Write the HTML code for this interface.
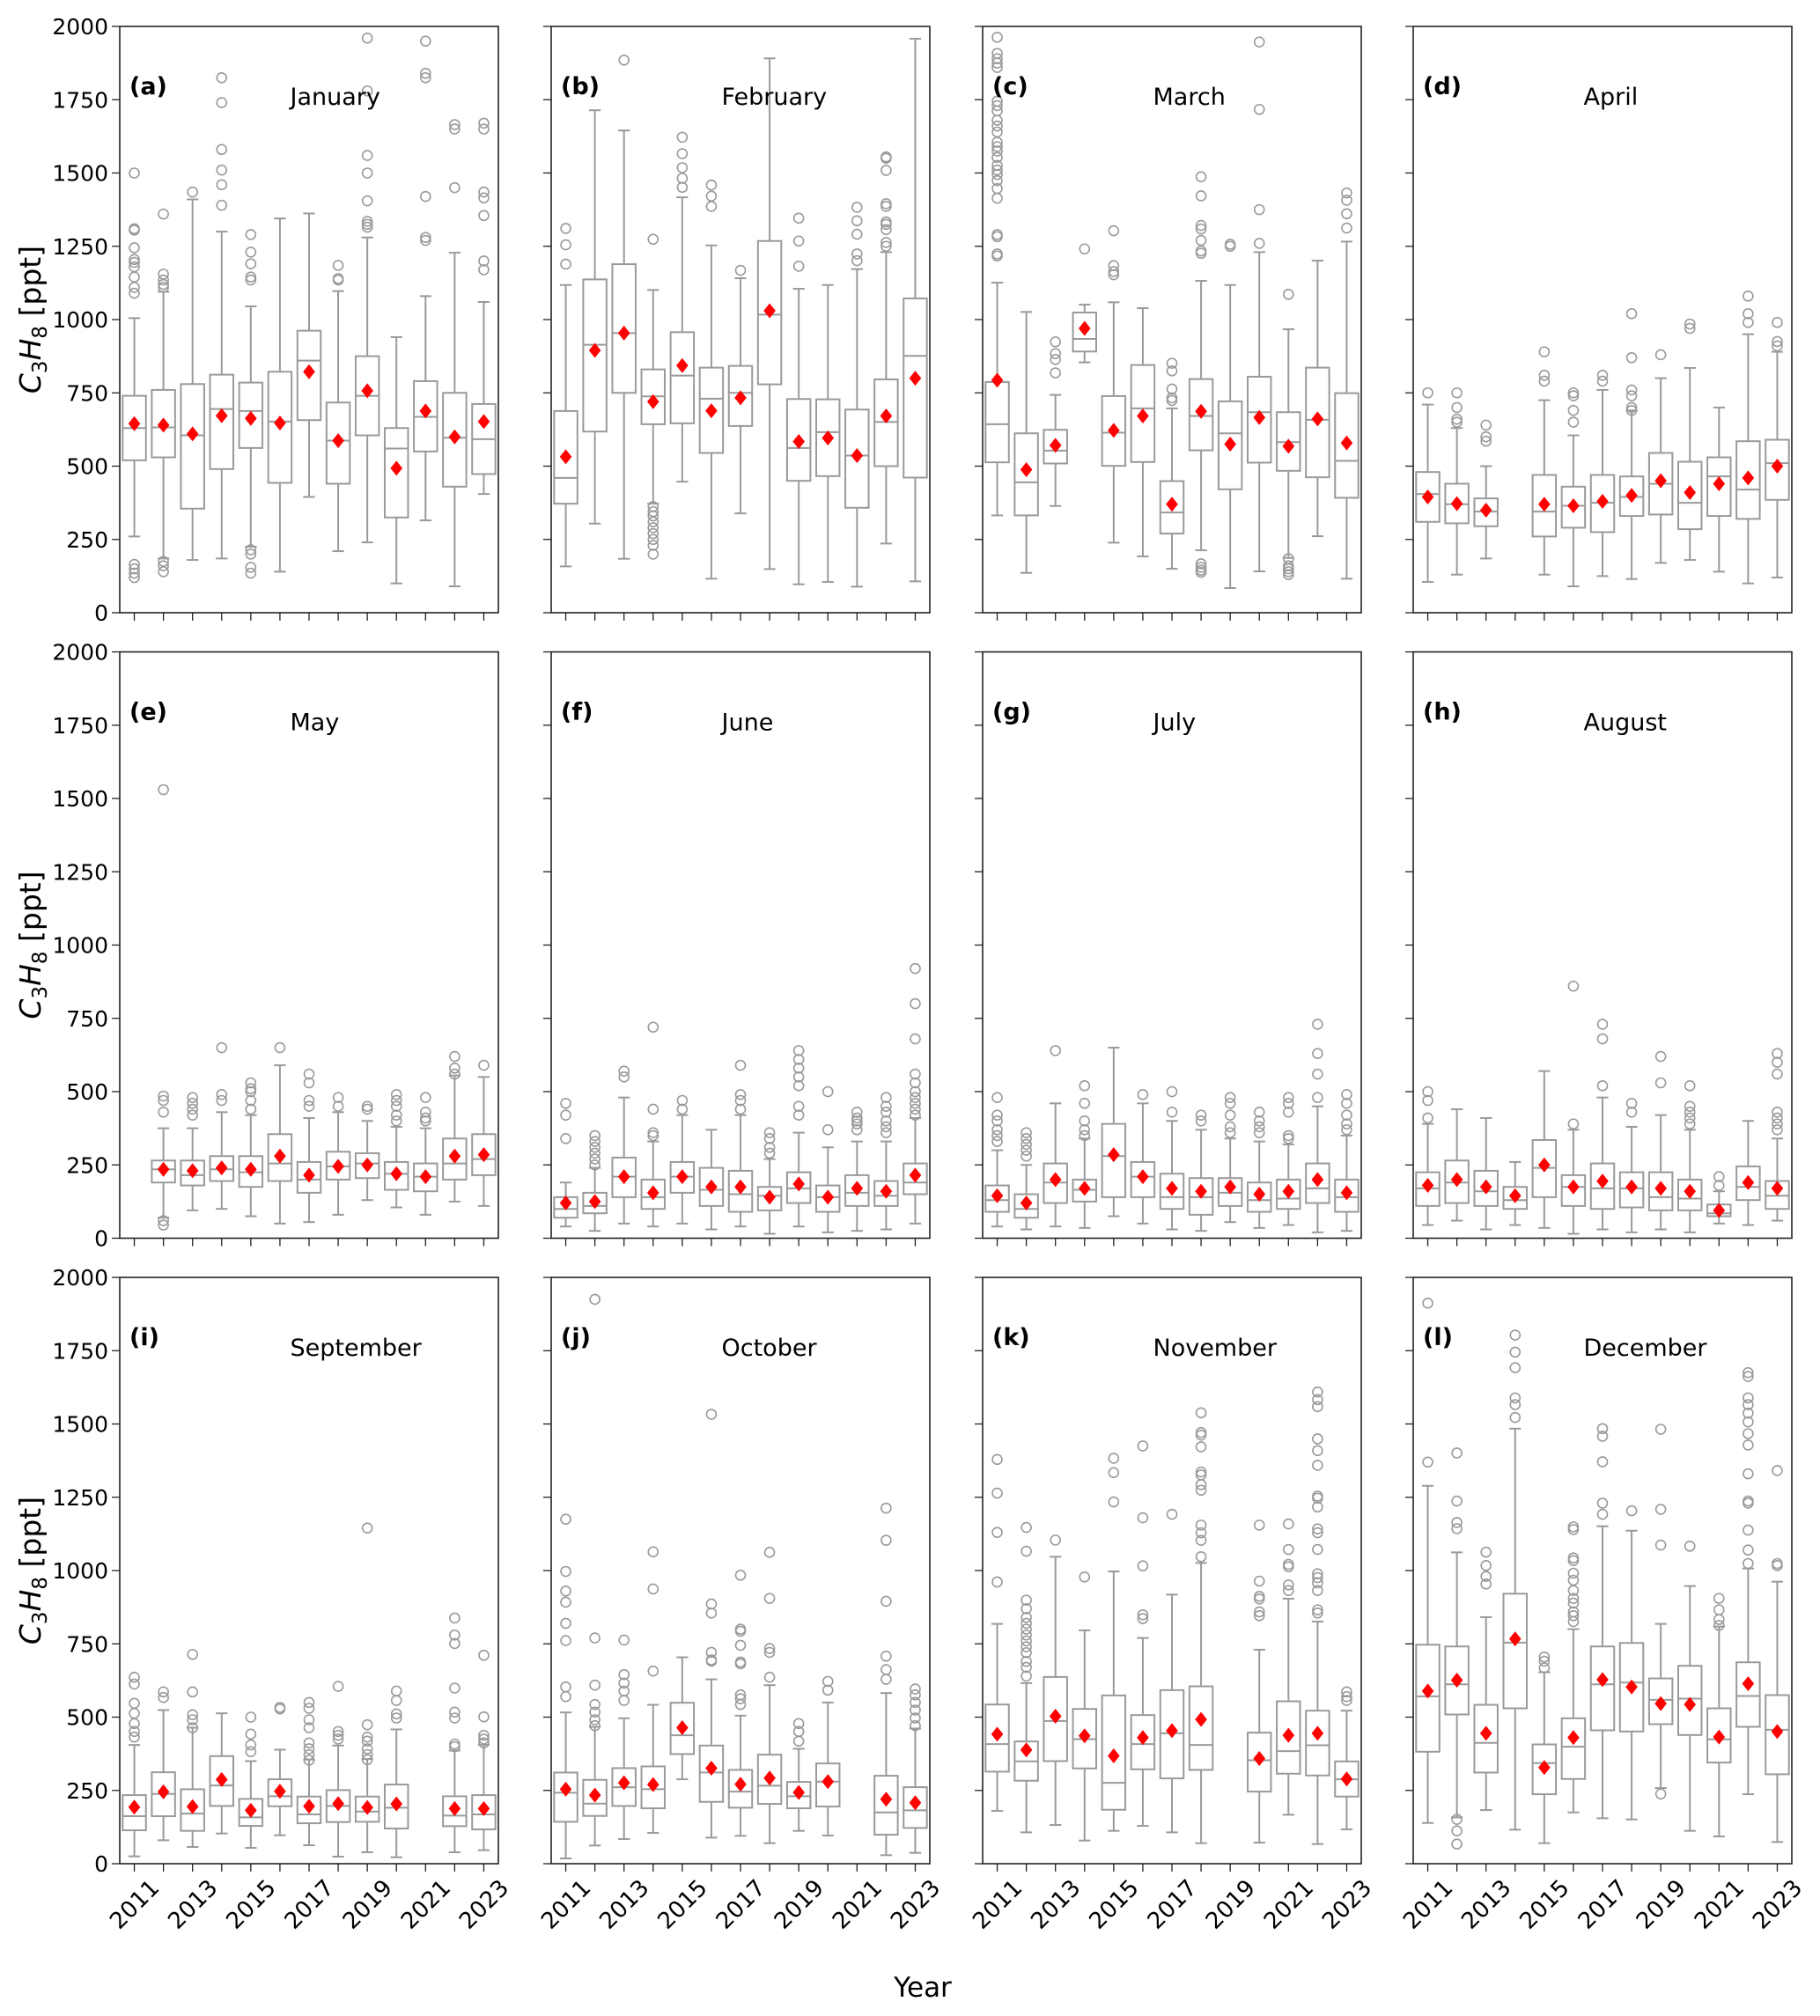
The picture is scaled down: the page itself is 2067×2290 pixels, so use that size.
<!DOCTYPE html>
<html><head><meta charset="utf-8">
<style>
html,body{margin:0;padding:0;background:#fff;}
svg{display:block;font-family:"DejaVu Sans","Liberation Sans",sans-serif;}
</style></head>
<body>
<svg id="chart" xmlns="http://www.w3.org/2000/svg" width="2067" height="2290" viewBox="0 0 2067 2290">
<rect x="0" y="0" width="2067" height="2290" fill="#fff"/>
<text x="1048" y="2268" font-size="31" text-anchor="middle">Year</text>
</svg>
<script>
const years = [2011,2012,2013,2014,2015,2016,2017,2018,2019,2020,2021,2022,2023];
const months = ["January","February","March","April","May","June","July","August","September","October","November","December"];
const panelLabels = ["(a)","(b)","(c)","(d)","(e)","(f)","(g)","(h)","(i)","(j)","(k)","(l)"];
const yTicks = [0,250,500,750,1000,1250,1500,1750,2000];
const yMax = 2000;

const whisLo = [
[260,185,180,185,225,140,395,210,240,100,315,90,405],
[158,304,184,372,447,116,339,149,97,105,89,236,107],
[332,136,364,854,239,192,150,213,84,141,187,261,116],
[105,130,185,null,130,90,125,115,170,180,140,100,120],
[null,70,95,100,75,50,55,80,130,105,80,125,110],
[40,25,50,40,50,30,40,15,40,20,25,30,50],
[40,30,40,35,75,50,30,25,55,35,45,20,25],
[45,60,30,45,35,15,30,20,30,20,50,45,60],
[25,80,57,103,54,97,63,24,39,22,null,39,46],
[18,62,84,105,288,89,95,70,112,96,null,29,37],
[180,107,132,79,112,129,107,70,null,72,167,67,117],
[139,158,183,116,70,175,155,151,258,112,93,237,74]];
const q1 = [
[520,530,355,490,562,443,657,440,605,325,550,430,473],
[372,618,750,643,646,545,637,779,450,466,358,500,461],
[513,332,509,891,501,514,270,554,421,512,484,462,392],
[310,305,295,null,260,290,275,330,335,285,330,320,385],
[null,190,180,195,175,195,155,200,205,165,160,200,215],
[70,85,140,100,155,110,90,95,120,90,110,110,150],
[90,70,120,125,140,140,100,80,110,90,100,120,90],
[110,120,110,100,140,110,100,105,95,95,75,130,100],
[114,162,112,197,129,196,138,142,143,120,null,128,117],
[143,163,197,189,374,211,191,204,189,195,null,99,122],
[314,283,350,325,184,322,291,320,null,246,307,301,229],
[382,509,311,530,237,289,455,451,476,439,345,467,305]];
const median = [
[630,632,605,695,688,652,860,587,740,560,668,597,592],
[460,914,954,738,809,730,750,1017,562,616,536,651,876],
[643,445,553,934,614,697,342,671,612,684,582,658,518],
[405,370,345,null,345,365,375,395,440,375,465,420,510],
[null,235,215,235,225,255,200,245,255,220,210,255,270],
[100,110,210,140,210,165,150,145,170,140,155,145,190],
[130,100,190,165,280,210,140,140,155,130,135,170,140],
[170,190,160,130,240,175,170,170,140,135,85,175,145],
[162,238,171,267,158,230,168,197,178,191,null,164,168],
[242,205,261,254,438,311,246,266,230,280,null,175,182],
[408,349,487,425,276,408,445,405,null,353,384,404,288],
[571,612,412,754,343,399,612,618,559,563,424,572,457]];
const q3 = [
[740,760,780,812,785,822,962,717,875,630,790,750,712],
[688,1137,1189,830,957,836,842,1268,729,728,693,796,1072],
[787,612,624,1024,739,845,449,797,721,805,684,836,749],
[480,440,390,null,470,430,470,465,545,515,530,585,590],
[null,265,265,280,280,355,260,295,290,260,255,340,355],
[140,155,275,200,260,240,230,175,225,180,215,195,255],
[180,150,255,200,390,260,220,205,205,190,200,255,200],
[225,265,230,175,335,215,255,225,225,200,115,245,195],
[234,312,254,367,221,288,229,251,229,270,null,230,234],
[311,286,326,332,549,403,320,372,279,342,null,300,261],
[543,417,637,528,574,507,592,605,null,447,554,522,349],
[747,741,542,921,407,496,741,753,632,675,530,687,575]];
const whisHi = [
[1005,1095,1410,1300,1045,1345,1362,1097,1280,940,1080,1228,1060],
[1118,1714,1645,1101,1417,1253,1141,1891,1105,1118,1172,1230,1958],
[1126,1026,743,1051,1059,1039,697,1132,1118,1230,967,1201,1266],
[710,630,500,null,725,605,760,690,800,835,700,950,890],
[null,375,375,430,420,590,410,430,400,380,375,555,550],
[190,240,480,330,420,370,420,270,360,310,330,330,410],
[300,250,460,340,650,460,400,370,340,330,320,450,350],
[390,440,410,260,570,370,480,380,420,370,160,400,340],
[405,524,464,513,350,389,355,403,357,458,null,386,405],
[516,467,496,542,704,629,505,609,392,550,null,582,461],
[818,616,1047,796,997,770,918,1026,null,730,904,826,522],
[1289,1062,841,1484,653,800,1151,1136,818,947,809,1007,962]];
const means = [
[645,640,610,672,663,647,822,587,757,493,688,600,652],
[532,895,954,720,843,689,733,1030,584,596,536,671,800],
[793,488,571,970,622,671,370,687,575,666,568,661,579],
[395,372,350,null,370,365,380,400,450,410,440,460,500],
[null,235,230,240,235,280,215,245,250,220,210,280,285],
[120,125,210,155,210,175,175,140,185,140,170,160,215],
[145,120,200,170,285,210,170,160,175,150,160,200,155],
[180,200,175,145,250,175,195,175,170,160,95,190,170],
[193,245,195,287,182,247,196,205,192,204,null,188,188],
[254,234,276,270,464,326,271,292,243,280,null,220,208],
[442,388,503,436,368,430,454,492,null,359,438,445,289],
[589,626,445,767,328,430,628,603,546,543,432,614,451]];
const outliers = [
[[1500,1310,1305,1245,1205,1195,1180,1145,1110,1090,165,150,135,120],[1360,1155,1135,1120,1110,175,160,140],[1435],[1825,1740,1580,1510,1460,1390],[1290,1230,1190,1145,1135,215,200,155,135],[],[],[1185,1140,1135],[1960,1780,1560,1500,1405,1335,1325,1315],[],[1950,1840,1825,1420,1280,1270],[1665,1650,1450],[1670,1650,1435,1415,1355,1200,1170]],
[[1311,1255,1189],[],[1885],[1274,362,345,330,310,290,270,250,230,200],[1622,1566,1518,1482,1451],[1459,1421,1386],[1168],[],[1346,1268,1182],[],[1383,1337,1291,1224,1201],[1555,1550,1509,1395,1386,1333,1325,1307,1263,1250],[]],
[[1963,1908,1890,1875,1860,1745,1730,1712,1680,1660,1640,1605,1590,1575,1553,1526,1510,1495,1474,1447,1414,1290,1283,1224,1217],[],[924,884,864,818],[1241],[1303,1184,1164,1153],[],[851,825,763,733,724],[1487,1422,1321,1309,1270,1234,1226,167,155,145,138],[1257,1250],[1947,1717,1375,1260],[1086,184,160,150,140,130],[],[1432,1407,1361,1312]],
[[750],[750,700,660,650],[640,600,585],[],[890,810,790],[750,740,690,650],[810,790],[1020,870,760,740,700,690],[880],[985,970],[],[1080,1020,990],[990,925,910]],
[[],[1530,485,470,430,60,45],[480,460,440,420],[650,490,470],[530,510,500,470,440],[650],[560,530,470,450],[480,450],[450,440],[490,470,450,420,400],[480,430,410,400],[620,580,560],[590]],
[[460,420,340],[350,330,310,290,270,250],[570,550],[720,440,360,350],[470,440],[],[590,490,470,440],[360,340,310,290],[640,610,580,550,520,450,420],[500,370],[430,410,400,390,370],[480,450,430,400,380,360],[920,800,680,560,530,500,480,460,440,420]],
[[480,420,400,370,350,330],[360,340,320,300,280],[640],[520,460,400,370,350],[],[490],[500,430],[420,400],[480,460,420,380,360],[430,400,380,360],[480,460,430,350,340],[730,630,560,480],[490,460,420,390,370]],
[[500,470,410],[],[],[],[],[860,390],[730,680,520],[460,430],[620,530],[520,450,430,410,390],[210,180],[],[630,600,560,430,410,390,370]],
[[636,613,547,513,478,451,432],[586,567],[714,586,508,491,464],[],[500,442,405,382],[533,528],[550,530,491,464,412,392,372,353],[605,451,438,425],[1145,474,432,418,392,372,355],[589,557,511,497],[],[838,780,751,599,517,497,408,399],[711,501,438,425,412]],
[[1175,997,930,892,820,761,603,570],[1925,770,609,543,517,491,471],[763,645,616,589,557],[1064,937,657],[],[1533,886,855,721,695,691],[984,800,793,745,688,682,576,563,543],[1062,905,734,721,636],[478,451,418],[622,592],[],[1213,1103,895,708,662,629],[596,576,550,524,497,471]],
[[1379,1264,1130,961],[1147,1066,899,870,840,820,800,780,760,740,720,690,670,640],[1104],[978],[1383,1334,1234],[1425,1180,1016,849,836],[1192],[1538,1471,1462,1422,1336,1326,1293,1274,1155,1129,1103,1047],[],[1155,964,912,903,859,846],[1159,1072,1021,1013,951,932],[1609,1583,1559,1449,1409,1359,1254,1247,1217,1142,1129,1072,989,976,958,932,866,855],[586,570,557]],
[[1912,1370],[1401,1237,1164,1143,151,112,67],[1063,1017,980,954],[1803,1745,1692,1589,1566,1522],[705,691,668],[1149,1140,1043,1034,991,967,932,905,889,859,846,826],[1484,1458,1371,1230,1192],[1204],[1482,1209,1087,238],[1083],[905,866,833,813],[1675,1662,1589,1566,1537,1507,1467,1428,1330,1237,1230,1138,1070,1024],[1341,1024,1017]]];

const NS = "http://www.w3.org/2000/svg";
const svg = document.getElementById("chart");
const panelLefts = [136, 626, 1116, 1605];
const rowTops = [30, 740.5, 1451];
const PW = 430, PH = 666;
const GRAY = "#9a9a9a";
function mk(tag, attrs, parent) {
  const e = document.createElementNS(NS, tag);
  for (const k in attrs) e.setAttribute(k, attrs[k]);
  (parent || svg).appendChild(e);
  return e;
}

for (let m = 0; m < 12; m++) {
  const col = m % 4, row = Math.floor(m / 4);
  const L = panelLefts[col], T = rowTops[row];
  const xs = i => L + PW * (i + 0.5) / years.length;
  const ys = v => T + PH * (1 - v / yMax);
  const g = mk("g", {});
  
  

  yTicks.forEach(t => {
    const tk = mk("line", {x1: L - 9, x2: L, y1: ys(t), y2: ys(t), stroke: "#222", "stroke-width": 1.3}, g);
    
    
    if (col === 0) {
      const tl = mk("text", {x: L - 13, y: ys(t) + 9, "font-size": 25, "text-anchor": "end", fill: "#000"}, g);
      tl.textContent = t;
      
      
    }
  });
  years.forEach((yr, i) => {
    const tk = mk("line", {x1: xs(i), x2: xs(i), y1: T + PH, y2: T + PH + 9, stroke: "#222", "stroke-width": 1.3}, g);
    
    
    if (row === 2 && i % 2 === 0) {
      const cx = xs(i), cy = T + PH + 46;
      const tl = mk("text", {x: cx, y: cy + 9, "font-size": 26, "text-anchor": "middle", transform: `rotate(-45 ${cx} ${cy})`, fill: "#000"}, g);
      tl.textContent = yr;
      
      
    }
  });

  const bw = PW / years.length * 0.8, cw = bw * 0.5;
  years.forEach((yr, i) => {
    if (q1[m][i] == null) return;
    const x = xs(i);
    const bg = mk("g", {}, g);
    
    
    const st = {stroke: GRAY, "stroke-width": 2, fill: "none"};
    mk("line", Object.assign({x1: x, x2: x, y1: ys(whisLo[m][i]), y2: ys(q1[m][i])}, st), bg);
    mk("line", Object.assign({x1: x, x2: x, y1: ys(q3[m][i]), y2: ys(whisHi[m][i])}, st), bg);
    mk("line", Object.assign({x1: x - cw/2, x2: x + cw/2, y1: ys(whisLo[m][i]), y2: ys(whisLo[m][i])}, st), bg);
    mk("line", Object.assign({x1: x - cw/2, x2: x + cw/2, y1: ys(whisHi[m][i]), y2: ys(whisHi[m][i])}, st), bg);
    mk("rect", Object.assign({x: x - bw/2, y: ys(q3[m][i]), width: bw, height: ys(q1[m][i]) - ys(q3[m][i])}, st), bg);
    mk("line", Object.assign({x1: x - bw/2, x2: x + bw/2, y1: ys(median[m][i]), y2: ys(median[m][i])}, st), bg);
    outliers[m][i].forEach(v => {
      const c = mk("circle", {cx: x, cy: ys(v), r: 5.5, stroke: GRAY, "stroke-width": 1.6, fill: "none"}, bg);
      
      
    });
    const my = ys(means[m][i]), d = 8.5;
    const mm = mk("polygon", {points: `${x},${my-d} ${x+d*0.8},${my} ${x},${my+d} ${x-d*0.8},${my}`, fill: "#ff0000"}, bg);
    
    
  });

  const fr = mk("rect", {x: L, y: T, width: PW, height: PH, fill: "none", stroke: "#222", "stroke-width": 1.6}, g);
  
  

  const pl = mk("text", {x: L + 11, y: T + 77, "font-size": 27, "font-weight": "bold", fill: "#000"}, g);
  pl.textContent = panelLabels[m];
  
  
  const mt = mk("text", {x: L + 0.45 * PW, y: T + 89, "font-size": 27, fill: "#000"}, g);
  mt.textContent = months[m];
  
  
}

rowTops.forEach(T => {
  const cx = 46, cy = T + PH / 2;
  const t = mk("text", {x: cx, y: cy, "font-size": 33, "text-anchor": "middle", transform: `rotate(-90 ${cx} ${cy})`, fill: "#000"});
  
  
  t.innerHTML = '<tspan font-style="italic">C</tspan><tspan font-size="23" dy="7">3</tspan><tspan font-style="italic" dy="-7">H</tspan><tspan font-size="23" dy="7">8</tspan><tspan dy="-7"> [ppt]</tspan>';
});
</script>
</body></html>
